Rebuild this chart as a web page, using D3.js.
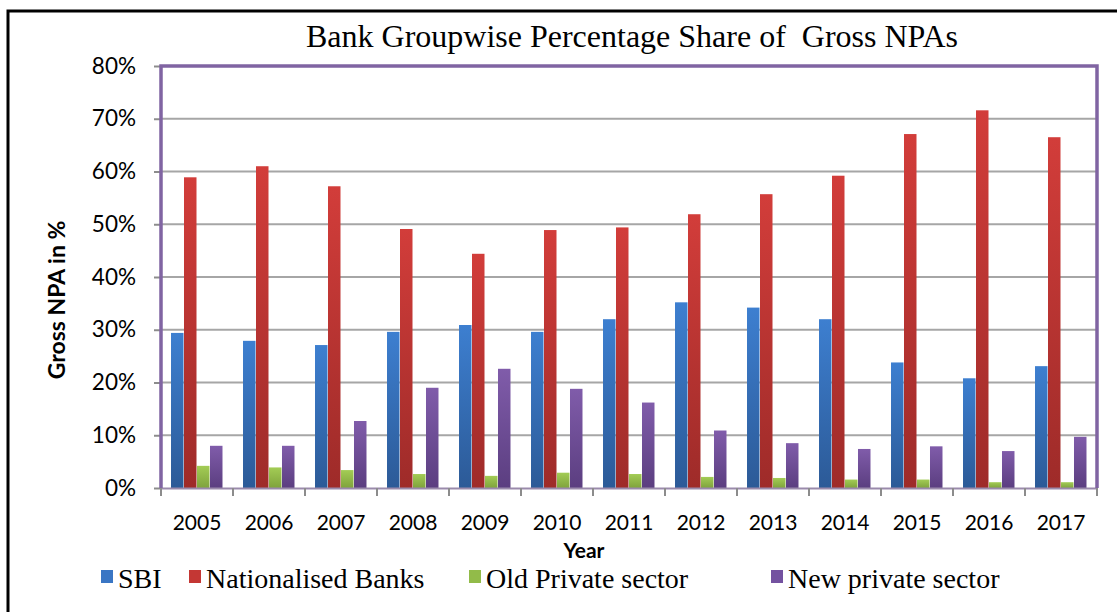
<!DOCTYPE html>
<html>
<head>
<meta charset="utf-8">
<script src="https://cdn.jsdelivr.net/npm/d3@7"></script>
<style>
  body { margin: 0; background: #fff; }
</style>
</head>
<body>
<div id="chart"></div>
<script>
var years = ["2005","2006","2007","2008","2009","2010","2011","2012","2013","2014","2015","2016","2017"];
var seriesNames = ["SBI", "Nationalised Banks", "Old Private sector", "New private sector"];
var sbi =       [29.4, 27.9, 27.1, 29.6, 30.9, 29.6, 32.0, 35.2, 34.2, 32.0, 23.8, 20.8, 23.1];
var nationalised = [58.9, 61.0, 57.2, 49.1, 44.4, 48.9, 49.4, 51.9, 55.7, 59.2, 67.1, 71.6, 66.5];
var oldPrivate = [4.2, 3.9, 3.4, 2.65, 2.3, 2.9, 2.65, 2.1, 1.9, 1.6, 1.6, 1.1, 1.1];
var newPrivate = [8.0, 8.0, 12.7, 19.0, 22.6, 18.8, 16.2, 10.9, 8.5, 7.4, 7.9, 7.0, 9.7];
var yTicks = [0, 10, 20, 30, 40, 50, 60, 70, 80];

var allSeries = [sbi, nationalised, oldPrivate, newPrivate];
var colors = [
  {top: "#3d7fd0", bot: "#2c5a97", key: "#3a76c4"},
  {top: "#d23d3a", bot: "#9e2b29", key: "#c43734"},
  {top: "#a3cc55", bot: "#7fa33c", key: "#92bb49"},
  {top: "#805caa", bot: "#5b3e80", key: "#7452a0"}
];

var W = 1117, H = 612;
var margin = {left: 161, right: W - 1097, top: 66, bottom: H - 488};
var svg = d3.select("#chart").append("svg").attr("width", W).attr("height", H);

var defs = svg.append("defs");
colors.forEach(function (c, i) {
  var g = defs.append("linearGradient").attr("id", "grad" + i)
    .attr("x1", 0).attr("y1", 0).attr("x2", 0).attr("y2", 1);
  g.append("stop").attr("offset", "0%").attr("stop-color", c.top);
  g.append("stop").attr("offset", "100%").attr("stop-color", c.bot);
});

// outer frame
svg.append("rect").attr("x", 8).attr("y", 11).attr("width", W + 20).attr("height", H + 20)
  .attr("fill", "none").attr("stroke", "#000").attr("stroke-width", 3);

var x = d3.scaleBand().domain(years).range([margin.left, W - margin.right]);
var y = d3.scaleLinear().domain([0, 80]).range([H - margin.bottom, margin.top]);
var inner = d3.scaleBand().domain(d3.range(4)).range([0, x.bandwidth()]).paddingInner(0).paddingOuter(0.77);

// gridlines
svg.append("g").selectAll("line").data(yTicks.slice(1)).join("line")
  .attr("x1", margin.left).attr("x2", W - margin.right)
  .attr("y1", d => y(d)).attr("y2", d => y(d))
  .attr("stroke", "#a6a6a6").attr("stroke-width", 2);

// y axis
var yAxis = svg.append("g").attr("transform", "translate(" + margin.left + ",0)")
  .call(d3.axisLeft(y).tickValues(yTicks).tickFormat(d => d + "%").tickSize(7).tickPadding(18));
yAxis.select(".domain").remove();
yAxis.selectAll(".tick line").attr("stroke", "#8c8c8c").attr("stroke-width", 2);
yAxis.selectAll("text").attr("font-family", "Lato, 'Open Sans', sans-serif")
  .attr("font-size", 22.5).attr("fill", "#000");

// bars
allSeries.forEach(function (vals, si) {
  svg.append("g").selectAll("rect").data(vals).join("rect")
    .attr("x", (d, i) => x(years[i]) + inner(si))
    .attr("width", inner.bandwidth() - 0.5)
    .attr("y", d => y(d))
    .attr("height", d => y(0) - y(d))
    .attr("fill", "url(#grad" + si + ")");
});

// x axis
var xAxis = svg.append("g").attr("transform", "translate(0," + y(0) + ")")
  .call(d3.axisBottom(x).tickSize(0).tickPadding(27));
xAxis.select(".domain").attr("stroke", "#9a8aab").attr("stroke-width", 2);
xAxis.selectAll("text").attr("font-family", "Lato, 'Open Sans', sans-serif")
  .attr("font-size", 21).attr("fill", "#000");
svg.append("g").selectAll("line").data(years.concat(["end"])).join("line")
  .attr("x1", d => d === "end" ? W - margin.right : x(d))
  .attr("x2", d => d === "end" ? W - margin.right : x(d))
  .attr("y1", y(0)).attr("y2", y(0) + 8)
  .attr("stroke", "#8c8c8c").attr("stroke-width", 2);

// plot border (left, top, right)
svg.append("path")
  .attr("d", "M" + margin.left + "," + y(0) + "V" + margin.top + "H" + (W - margin.right) + "V" + y(0))
  .attr("fill", "none").attr("stroke", "#8064a2").attr("stroke-width", 3.5);

// title
svg.append("text").attr("x", 632).attr("y", 47).attr("text-anchor", "middle")
  .attr("font-family", "'Liberation Serif', 'Times New Roman', serif").attr("font-size", 32)
  .attr("xml:space", "preserve")
  .text("Bank Groupwise Percentage Share of  Gross NPAs");

// axis titles
svg.append("text").attr("transform", "translate(65,300) rotate(-90)").attr("text-anchor", "middle")
  .attr("font-family", "Lato, 'Open Sans', sans-serif").attr("font-weight", "bold").attr("font-size", 23)
  .text("Gross NPA in %");
svg.append("text").attr("x", 584).attr("y", 558).attr("text-anchor", "middle")
  .attr("font-family", "Lato, 'Open Sans', sans-serif").attr("font-weight", "bold").attr("font-size", 21)
  .text("Year");

// legend
var legendX = [101, 189, 469, 771];
var legend = svg.append("g");
seriesNames.forEach(function (name, i) {
  legend.append("rect").attr("x", legendX[i]).attr("y", 570).attr("width", 12).attr("height", 13)
    .attr("fill", colors[i].key);
  legend.append("text").attr("x", legendX[i] + 17).attr("y", 588)
    .attr("font-family", "'Liberation Serif', 'Times New Roman', serif").attr("font-size", 28)
    .text(name);
});
</script>
</body>
</html>
